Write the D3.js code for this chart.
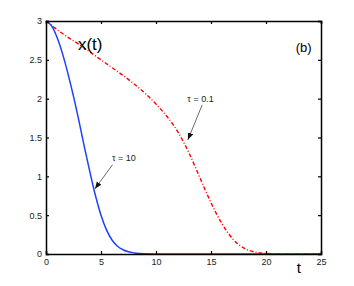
<!DOCTYPE html>
<html><head><meta charset="utf-8">
<script src="https://cdn.jsdelivr.net/npm/d3@7/dist/d3.min.js"></script>
<style>body{margin:0;background:#fff}svg{display:block;font-family:"Liberation Sans",Arial,sans-serif}</style>
</head><body>
<svg id="c" width="354" height="286"></svg>
<script>
const tBlue = [0,0.5,1,1.5,2,2.5,3,3.5,4,4.5,5,5.5,6,6.5,7,7.5,8,8.5,9,10,11,12,15,20,25];
const xBlue = [3,2.94,2.79,2.58,2.32,2.03,1.71,1.37,1.05,0.75,0.5,0.31,0.18,0.1,0.055,0.028,0.014,0.006,0.003,0.001,0,0,0,0,0];
const tRed = [0,1,2,3,4,5,6,7,8,9,10,11,12,13,14,15,16,17,18,19,20,21,22,25];
const xRed = [3,2.89,2.79,2.70,2.60,2.50,2.40,2.30,2.19,2.07,1.93,1.77,1.57,1.30,0.98,0.66,0.39,0.19,0.075,0.025,0.008,0.002,0,0];
const xTicks = [0,5,10,15,20,25];
const yTicks = [0,0.5,1,1.5,2,2.5,3];

const svg = d3.select("#c");
const L=46, R=321, T=21, B=254;
const x = d3.scaleLinear().domain([0,25]).range([L,R]);
const y = d3.scaleLinear().domain([0,3]).range([B,T]);

const line = d3.line().x(d=>x(d[0])).y(d=>y(d[1])).curve(d3.curveMonotoneX);

svg.append("path").datum(tRed.map((t,i)=>[t,xRed[i]]))
  .attr("d",line).attr("fill","none").attr("stroke","#ff0000")
  .attr("stroke-width",1.4).attr("stroke-dasharray","4,2,1,2");
svg.append("path").datum(tBlue.map((t,i)=>[t,xBlue[i]]))
  .attr("d",line).attr("fill","none").attr("stroke","#1f3fff")
  .attr("stroke-width",1.5);

// axes (box with inward ticks)
const tl=3;
const gB = svg.append("g").attr("transform",`translate(0,${B})`)
  .call(d3.axisBottom(x).tickValues(xTicks).tickSize(-tl).tickPadding(6).tickFormat(d3.format("")));
const gT = svg.append("g").attr("transform",`translate(0,${T})`)
  .call(d3.axisTop(x).tickValues(xTicks).tickSize(-tl).tickFormat(""));
const gL = svg.append("g").attr("transform",`translate(${L},0)`)
  .call(d3.axisLeft(y).tickValues(yTicks).tickSize(-tl).tickPadding(4).tickFormat(d3.format("")));
const gR = svg.append("g").attr("transform",`translate(${R},0)`)
  .call(d3.axisRight(y).tickValues(yTicks).tickSize(-tl).tickFormat(""));
[gB,gT,gL,gR].forEach(g=>{
  g.select(".domain").attr("stroke","#000").attr("stroke-width",1.5);
  g.selectAll(".tick line").attr("stroke","#000").attr("stroke-width",1.2);
  g.selectAll("text").attr("font-size","9px").attr("fill","#222").attr("font-family","Liberation Sans, Arial, sans-serif");
});
gB.selectAll("text").attr("dy","0.6em");

// text labels
svg.append("text").attr("x",x(2.9)).attr("y",y(2.63)).attr("font-size","17px").text("x(t)");
svg.append("text").attr("x",x(22.7)).attr("y",y(2.6)).attr("font-size","13px").text("(b)");
svg.append("text").attr("x",x(22.8)).attr("y",y(-0.24)).attr("font-size","15px").text("t");

// annotations
const defs = svg.append("defs");
defs.append("marker").attr("id","ah").attr("viewBox","0 0 10 10").attr("refX",10).attr("refY",5)
  .attr("markerWidth",7).attr("markerHeight",7).attr("orient","auto").attr("markerUnits","userSpaceOnUse")
  .append("path").attr("d","M0,1 L10,5 L0,9 Z").attr("fill","#111");
svg.append("text").attr("x",x(6.0)).attr("y",y(1.2)).attr("font-size","9px").attr("fill","#222").text("τ = 10");
svg.append("line").attr("x1",x(6.05)).attr("y1",y(1.15)).attr("x2",x(4.45)).attr("y2",y(0.84))
  .attr("stroke","#444").attr("stroke-width",0.8).attr("marker-end","url(#ah)");
svg.append("text").attr("x",x(12.85)).attr("y",y(1.96)).attr("font-size","9px").attr("fill","#222").text("τ = 0.1");
svg.append("line").attr("x1",x(14.2)).attr("y1",y(1.92)).attr("x2",x(12.9)).attr("y2",y(1.47))
  .attr("stroke","#444").attr("stroke-width",0.8).attr("marker-end","url(#ah)");
</script>
</body></html>
